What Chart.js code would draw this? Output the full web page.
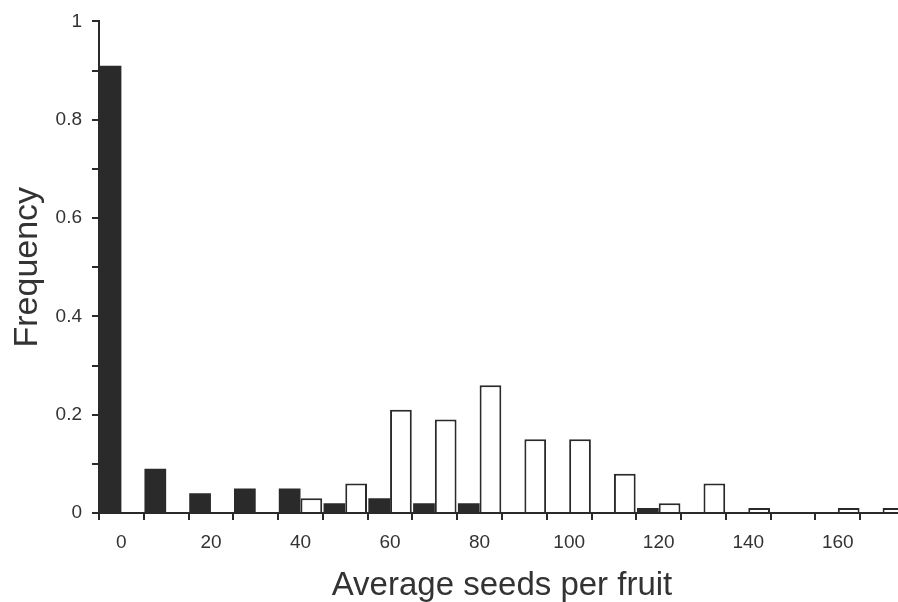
<!DOCTYPE html>
<html>
<head>
<meta charset="utf-8">
<script src="https://cdn.jsdelivr.net/npm/chart.js@4/dist/chart.umd.min.js"></script>
<style>
  html, body { margin: 0; padding: 0; background: #fff; overflow: hidden; }
  #wrap { width: 898px; height: 602px; overflow: hidden; }
</style>
</head>
<body>
<div id="wrap"><canvas id="graphCanvas" width="905" height="610"></canvas></div>
<script>
// bins of 10 seeds, centred on these values
const binCentres = [0, 10, 20, 30, 40, 50, 60, 70, 80, 90, 100, 110, 120, 130, 140, 150, 160, 170];
const blackFreq = [0.91, 0.09, 0.04, 0.05, 0.05, 0.02, 0.03, 0.02, 0.02, 0, 0, 0, 0.01, 0, 0, 0, 0, 0];
const whiteFreq = [0, 0, 0, 0, 0.03, 0.06, 0.21, 0.19, 0.26, 0.15, 0.15, 0.08, 0.02, 0.06, 0.01, 0, 0.01, 0.01];
const xTickLabels = ["0", "20", "40", "60", "80", "100", "120", "140", "160"];
const yTickLabels = ["0", "0.2", "0.4", "0.6", "0.8", "1"];

const ink = "#2a2a2a";
const textCol = "#333";
const fontFamily = "'Liberation Sans', Arial, sans-serif";

const ctx = document.getElementById("graphCanvas").getContext("2d");

new Chart(ctx, {
  type: "bar",
  data: {
    labels: binCentres.map(String),
    datasets: [
      {
        label: "black",
        data: blackFreq,
        backgroundColor: ink,
        borderWidth: 0,
      },
      {
        label: "white",
        data: whiteFreq,
        backgroundColor: "#ffffff",
        borderColor: ink,
        borderWidth: 2,
      },
    ],
  },
  options: {
    responsive: false,
    animation: false,
    devicePixelRatio: 1,
    layout: { padding: { top: 16, right: 0, bottom: 0, left: 0 } },
    datasets: {
      bar: { categoryPercentage: 0.97, barPercentage: 1 },
    },
    plugins: {
      legend: { display: false },
      tooltip: { enabled: false },
    },
    scales: {
      x: {
        offset: true,
        afterFit: (scale) => { scale.height = 97; },
        grid: {
          offset: true,
          drawOnChartArea: false,
          drawTicks: true,
          tickLength: 7,
          color: ink,
          lineWidth: 2,
        },
        border: { color: ink, width: 2 },
        ticks: {
          autoSkip: false,
          maxRotation: 0,
          padding: 11,
          color: textCol,
          font: { family: fontFamily, size: 19 },
          callback: (val, i) => {
            const c = binCentres[i];
            return xTickLabels.includes(String(c)) ? String(c) : "";
          },
        },
        title: {
          display: true,
          text: "Average seeds per fruit",
          color: textCol,
          font: { family: fontFamily, size: 33 },
          padding: { top: 12, bottom: 4 },
        },
      },
      y: {
        min: 0,
        max: 1,
        afterFit: (scale) => { scale.width = 99; },
        grid: {
          drawOnChartArea: false,
          drawTicks: true,
          tickLength: 7,
          color: ink,
          lineWidth: 2,
        },
        border: { color: ink, width: 2 },
        ticks: {
          stepSize: 0.1,
          padding: 10,
          color: textCol,
          font: { family: fontFamily, size: 19 },
          callback: (val, i) => {
            const s = String(Math.round(val * 10) / 10);
            return yTickLabels.includes(s) ? s : "";
          },
        },
        title: {
          display: true,
          text: "Frequency",
          color: textCol,
          font: { family: fontFamily, size: 34 },
          padding: { top: 7, bottom: 9 },
        },
      },
    },
  },
});
</script>
</body>
</html>
